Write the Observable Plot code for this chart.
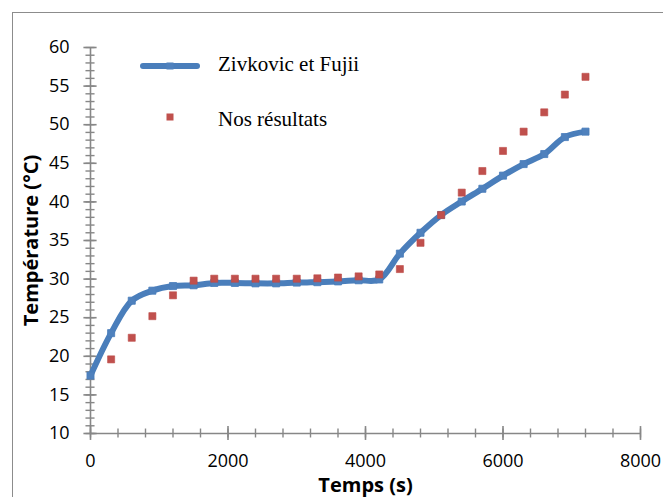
<!DOCTYPE html>
<html>
<head>
<meta charset="utf-8">
<script src="https://cdn.jsdelivr.net/npm/d3@7"></script>
<script src="https://cdn.jsdelivr.net/npm/@observablehq/plot@0.6"></script>
<style>
  html, body { margin: 0; padding: 0; background: #fff; }
  #wrap { position: relative; width: 663px; height: 497px; overflow: hidden; background: #fff; }
  #border { position: absolute; left: 12px; top: 12px; width: 700px; height: 600px;
            border-left: 1.3px solid #8c8c8c; border-top: 1.3px solid #8c8c8c; pointer-events: none; }
  #legend { position: absolute; left: 0; top: 0; pointer-events: none; }
  g[aria-label="x-axis label"] text, g[aria-label="y-axis label"] text { font-weight: bold; font-size: 20px; }
  g[aria-label="x-axis label"], g[aria-label="y-axis label"] { font-weight: bold; font-size: 20px; }
</style>
</head>
<body>
<div id="wrap"></div>
<script>
// ---- data ----
const seriesNames = ["Zivkovic et Fujii", "Nos résultats"];

const zivTime = [0, 300, 600, 900, 1200, 1500, 1800, 2100, 2400, 2700, 3000, 3300, 3600, 3900, 4200, 4500, 4800, 5100, 5400, 5700, 6000, 6300, 6600, 6900, 7200];
const zivTemp = [17.5, 23.0, 27.2, 28.5, 29.1, 29.2, 29.5, 29.5, 29.45, 29.45, 29.55, 29.6, 29.7, 29.85, 29.95, 33.3, 36.0, 38.3, 40.05, 41.7, 43.4, 44.9, 46.2, 48.4, 49.1];

const nosTime = [300, 600, 900, 1200, 1500, 1800, 2100, 2400, 2700, 3000, 3300, 3600, 3900, 4200, 4500, 4800, 5100, 5400, 5700, 6000, 6300, 6600, 6900, 7200];
const nosTemp = [19.6, 22.4, 25.2, 27.9, 29.8, 30.05, 30.05, 30.05, 30.05, 30.05, 30.1, 30.2, 30.35, 30.6, 31.3, 34.7, 38.3, 41.2, 44.0, 46.6, 49.1, 51.6, 53.9, 56.2];

const xTicks = [0, 2000, 4000, 6000, 8000];
const yTicks = [10, 15, 20, 25, 30, 35, 40, 45, 50, 55, 60];
const xMinor = d3.range(0, 8001, 400);
const yMinor = d3.range(10, 61, 1);

const ziv = zivTime.map((t, i) => ({t, v: zivTemp[i]}));
const nos = nosTime.map((t, i) => ({t, v: nosTemp[i]}));

const blue = "#4a7ebb";
const red = "#c0504d";
const axisGray = "#878787";

const chart = Plot.plot({
  width: 663,
  height: 497,
  marginLeft: 90,
  marginRight: 23,
  marginTop: 47,
  marginBottom: 64,
  style: {fontFamily: "'Open Sans', sans-serif", color: "#000", background: "transparent", overflow: "visible"},
  x: {domain: [0, 8000]},
  y: {domain: [10, 60]},
  marks: [
    // axis lines
    Plot.ruleY([10], {stroke: axisGray, strokeWidth: 1.6}),
    Plot.ruleX([0], {y1: 10, y2: 60, stroke: axisGray, strokeWidth: 1.6}),
    // crossing minor ticks
    Plot.ruleX(xMinor, {x: d => d, y1: 9.42, y2: 10.58, stroke: axisGray, strokeWidth: 1.4}),
    Plot.ruleY(yMinor, {y: d => d, x1: -66, x2: 66, stroke: axisGray, strokeWidth: 1.4}),
    // crossing major ticks
    Plot.ruleX(xTicks, {x: d => d, y1: 9.1, y2: 10.9, stroke: axisGray, strokeWidth: 1.6}),
    Plot.ruleY(yTicks, {y: d => d, x1: -96, x2: 96, stroke: axisGray, strokeWidth: 1.6}),
    // tick labels + titles
    Plot.axisX(xTicks, {tickSize: 0, tickPadding: 21, fontSize: 18, tickFormat: d => String(d), label: "Temps (s)", labelAnchor: "center", labelOffset: 58, labelArrow: false}),
    Plot.axisY(yTicks, {tickSize: 0, tickPadding: 21, fontSize: 18, tickFormat: d => String(d), label: "Température (°C)", labelAnchor: "center", labelOffset: 67, labelArrow: false}),
    // Zivkovic et Fujii : smoothed thick line with markers
    Plot.line(ziv, {x: "t", y: "v", stroke: blue, strokeWidth: 6, curve: "catmull-rom", strokeLinejoin: "round", strokeLinecap: "round"}),
    Plot.dot(ziv, {x: "t", y: "v", symbol: "square", r: 4, fill: "#4f81bd", stroke: "#4a7ebb", strokeWidth: 0.8}),
    // Nos résultats : red squares
    Plot.dot(nos, {x: "t", y: "v", symbol: "square", r: 4, fill: red, stroke: "#be4b48", strokeWidth: 0.6})
  ]
});

const wrap = document.getElementById("wrap");
wrap.appendChild(chart);

const border = document.createElement("div");
border.id = "border";
wrap.appendChild(border);

// legend overlay (inside the plot area, as in the reference)
const NS = "http://www.w3.org/2000/svg";
const leg = document.createElementNS(NS, "svg");
leg.setAttribute("id", "legend");
leg.setAttribute("width", 663);
leg.setAttribute("height", 497);
leg.innerHTML = `
  <line x1="143" y1="66" x2="197" y2="66" stroke="${blue}" stroke-width="6" stroke-linecap="round"/>
  <rect x="166.5" y="62.5" width="7" height="7" fill="#4f81bd"/>
  <text x="218" y="71" font-family="'Liberation Serif', 'Times New Roman', serif" font-size="21" fill="#000">${seriesNames[0]}</text>
  <rect x="166.5" y="113.5" width="7" height="7" fill="${red}"/>
  <text x="218" y="126" font-family="'Liberation Serif', 'Times New Roman', serif" font-size="21" fill="#000">${seriesNames[1]}</text>
`;
wrap.appendChild(leg);
</script>
</body>
</html>
